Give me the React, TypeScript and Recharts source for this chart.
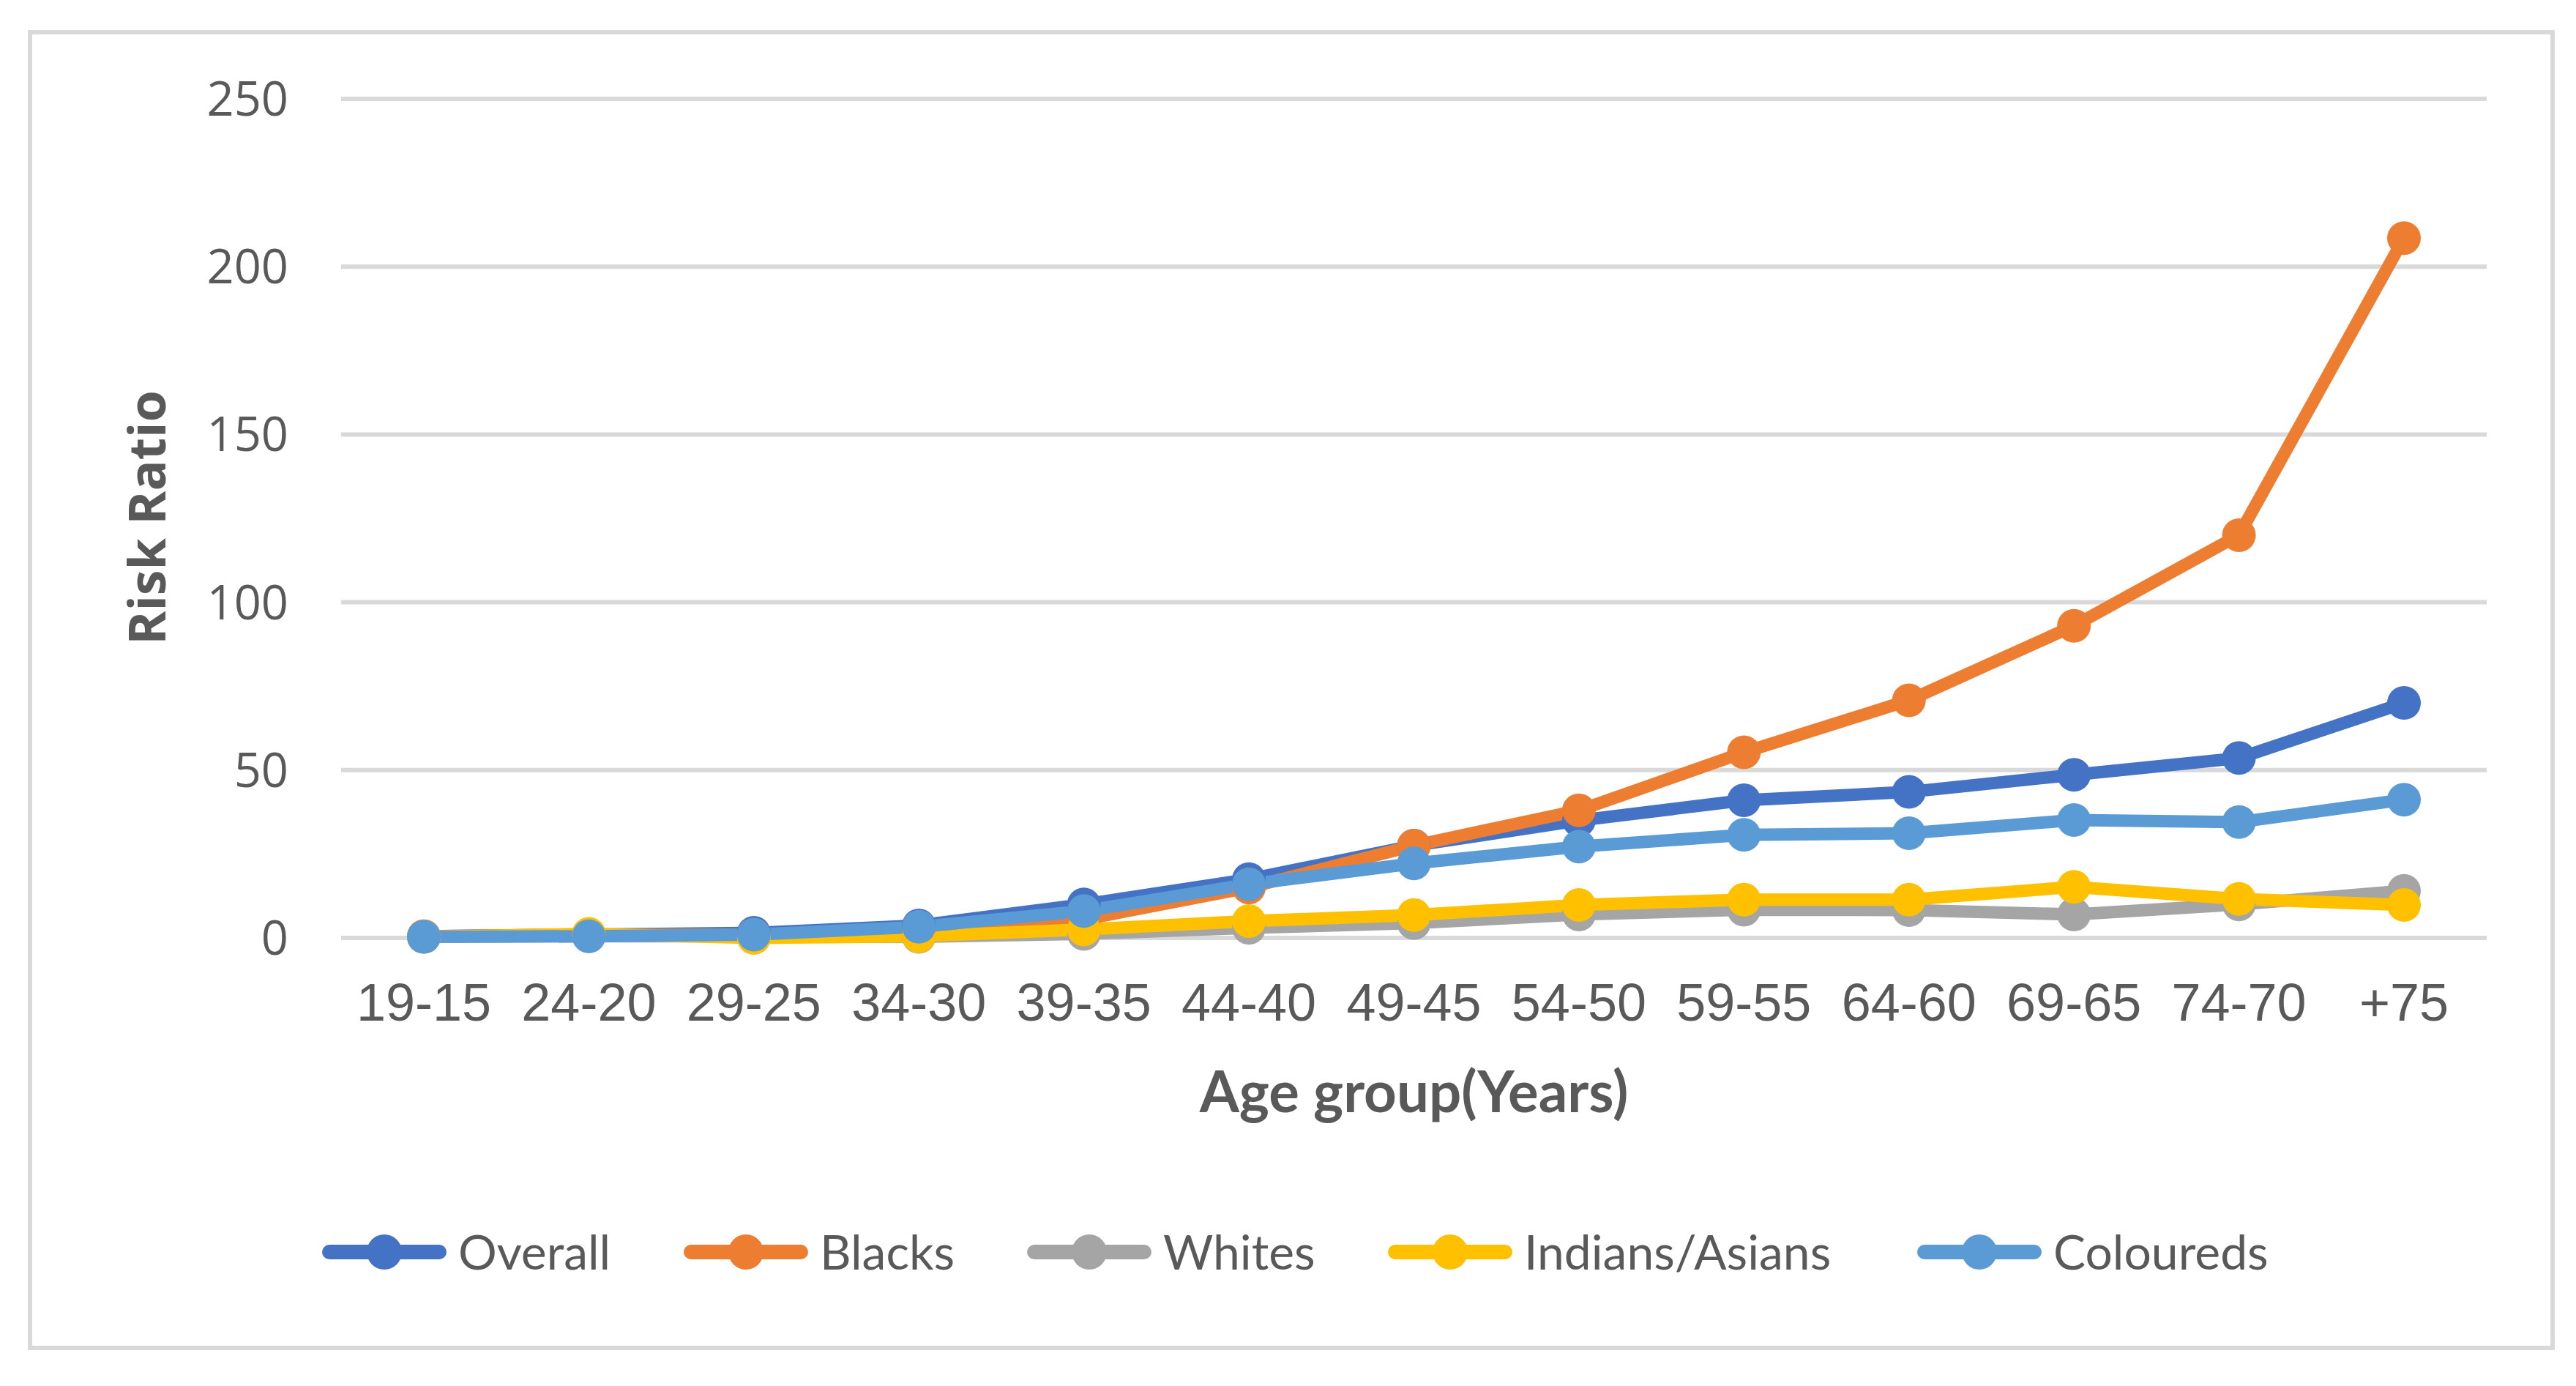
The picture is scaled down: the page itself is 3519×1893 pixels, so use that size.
import React from 'react';
import { LineChart, Line, XAxis, YAxis, CartesianGrid, Legend } from 'recharts';

const categories = ['19-15', '24-20', '29-25', '34-30', '39-35', '44-40', '49-45', '54-50', '59-55', '64-60', '69-65', '74-70', '+75'];
const overall = [0.5, 1, 1.5, 3.7, 10, 17.5, 27.5, 35, 41, 43.5, 48.6, 53.6, 70];
const blacks = [0.5, 1, 1, 2, 5.5, 15, 27.5, 38, 55.3, 70.8, 93, 120, 208.5];
const whites = [0.3, 0.5, 0.5, 0.3, 1.2, 3, 4.4, 7, 8.4, 8.3, 7, 10, 14];
const indians = [0.3, 1.2, 0, 0.5, 2.5, 5, 6.8, 9.8, 11.4, 11.4, 15.2, 11.6, 9.8];
const coloureds = [0.3, 0.5, 1, 3.3, 8, 16, 22.2, 27.2, 30.7, 31.2, 35.1, 34.5, 41.2];
const yTicks = [0, 50, 100, 150, 200, 250];

const seriesNames = ['Overall', 'Blacks', 'Whites', 'Indians/Asians', 'Coloureds'];
const seriesKeys = ['overall', 'blacks', 'whites', 'indians', 'coloureds'];
const seriesColors = ['#4472C4', '#ED7D31', '#A5A5A5', '#FFC000', '#5B9BD5'];
const seriesValues = [overall, blacks, whites, indians, coloureds];

const data = categories.map((c, i) => {
  const row: any = { name: c };
  seriesKeys.forEach((k, j) => { row[k] = seriesValues[j][i]; });
  return row;
});

const TEXT = '#595959';
const legendX = [440, 934, 1403, 1896, 2619];

const renderLegend = () => (
  <svg width={3519} height={100} style={{ display: 'block' }}>
    {seriesNames.map((n, i) => {
      const x = legendX[i];
      return (
        <g key={n}>
          <line x1={x + 10} y1={50} x2={x + 160} y2={50} stroke={seriesColors[i]} strokeWidth={20} strokeLinecap="round" />
          <circle cx={x + 85} cy={50} r={24} fill={seriesColors[i]} />
          <text x={x + 186} y={50} dy="0.36em" fontFamily="Lato" fontSize={66} fill={TEXT}>{n}</text>
        </g>
      );
    })}
  </svg>
);

const XTitle = (props: any) => {
  const vb = props.viewBox;
  return (
    <text x={vb.x + vb.width / 2} y={1519} textAnchor="middle" fontFamily="Lato" fontWeight="bold" fontSize={78} fill={TEXT}>
      Age group(Years)
    </text>
  );
};

const YTitle = () => (
  <text x={226} y={707} transform="rotate(-90, 226, 707)" textAnchor="middle" fontFamily="'Open Sans'" fontWeight="bold" fontSize={70} fill={TEXT}>
    Risk Ratio
  </text>
);

export default function App() {
  return (
    <div style={{ position: 'absolute', left: 0, top: 0, width: 3519, height: 1893, background: '#fff' }}>
      <div style={{ position: 'absolute', left: 38, top: 41, width: 3452, height: 1803, boxSizing: 'border-box', border: '6px solid #d9d9d9' }} />
      <div style={{ position: 'absolute', left: 0, top: 0 }}>
        <LineChart width={3519} height={1893} data={data} margin={{ top: 135, right: 122, left: 0, bottom: 312 }}>
          <CartesianGrid vertical={false} stroke="#d9d9d9" strokeWidth={6} />
          <XAxis
            dataKey="name"
            height={300}
            axisLine={false}
            tickLine={false}
            tickMargin={56}
            interval={0}
            padding={{ left: 113, right: 113 }}
            tick={{ fontFamily: "'Liberation Sans'", fontSize: 72, fill: TEXT }}
            label={<XTitle />}
          />
          <YAxis
            width={466}
            domain={[0, 250]}
            ticks={yTicks}
            axisLine={false}
            tickLine={false}
            tickMargin={66}
            tick={{ fontFamily: "'Open Sans'", fontSize: 65, fill: TEXT }}
            label={<YTitle />}
          />
          <Legend
            layout="horizontal"
            verticalAlign="middle"
            align="center"
            content={renderLegend}
            wrapperStyle={{ left: 0, top: 1660, width: 3519, height: 100 }}
          />
          {seriesKeys.map((k, i) => (
            <Line
              key={k}
              dataKey={k}
              name={seriesNames[i]}
              type="linear"
              stroke={seriesColors[i]}
              strokeWidth={17}
              dot={{ r: 23, fill: seriesColors[i], stroke: seriesColors[i], strokeWidth: 0 }}
              activeDot={false}
              isAnimationActive={false}
            />
          ))}
        </LineChart>
      </div>
    </div>
  );
}
